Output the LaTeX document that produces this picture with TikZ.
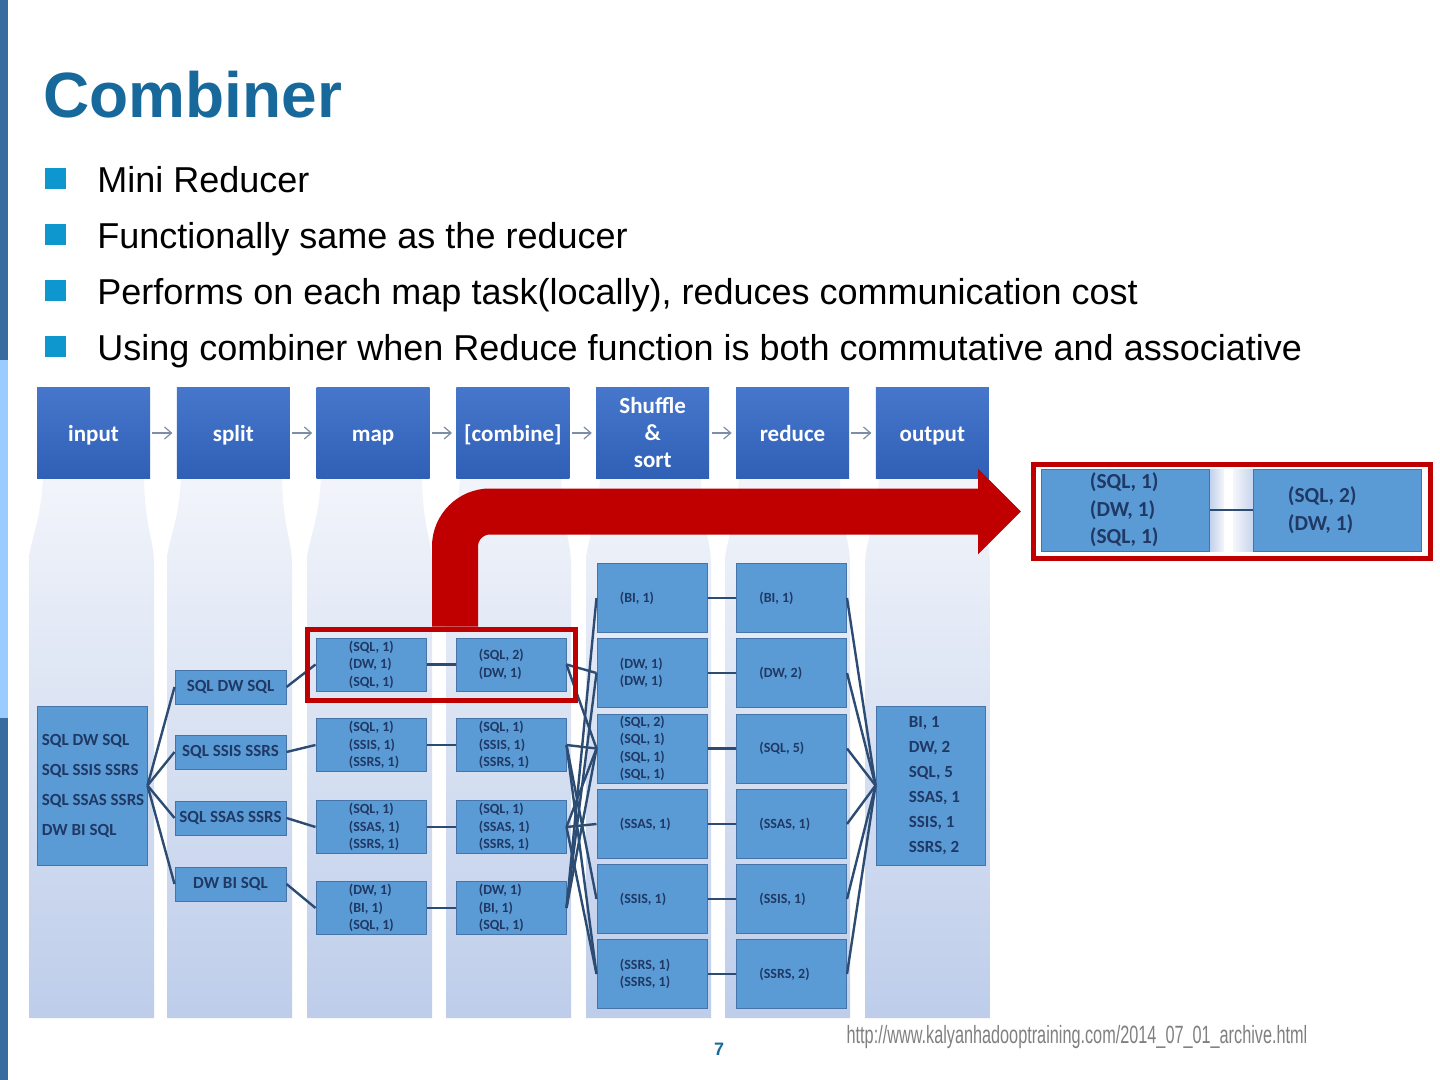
\documentclass[tikz,border=0pt]{standalone}
\usepackage{fontspec}
\setmainfont{Liberation Sans}
\newfontfamily\diagfont{Carlito}
\usetikzlibrary{arrows.meta, positioning, fit}

\definecolor{titleblue}{HTML}{17699C}
\definecolor{bulletblue}{HTML}{0E96CE}
\definecolor{bardark}{HTML}{3A6B9F}
\definecolor{barlight}{HTML}{99CCFF}
\definecolor{hdrtop}{HTML}{4677CB}
\definecolor{hdrbot}{HTML}{3060B6}
\definecolor{boxfill}{HTML}{5B9BD5}
\definecolor{boxline}{HTML}{4674A8}
\definecolor{boxtext}{HTML}{1F3864}
\definecolor{wirecol}{HTML}{2C4C74}
\definecolor{coltop}{HTML}{C4CFE7}
\definecolor{colmid}{HTML}{F4F6FB}
\definecolor{colbot}{HTML}{A3B9E2}
\definecolor{hired}{HTML}{C00000}
\definecolor{urlgray}{HTML}{808080}
\definecolor{arrgray}{HTML}{7D8DA6}

\newcommand\dsmall{\diagfont\bfseries\fontsize{7}{8.75}\selectfont}
\newcommand\dmid{\diagfont\bfseries\fontsize{8.5}{15}\selectfont}
\newcommand\dout{\diagfont\bfseries\fontsize{8.5}{12.5}\selectfont}
\newcommand\dbig{\diagfont\bfseries\fontsize{10.7}{13.75}\selectfont}

\pgfdeclareverticalshading{colshade}{100bp}{color(0bp)=(colbot); color(77bp)=(colmid); color(100bp)=(coltop)}

\begin{document}
\begin{tikzpicture}[
    x=0.5pt, y=-0.5pt,
    node distance=13pt,
    hdrbase/.style={rectangle, top color=hdrtop, bottom color=hdrbot, minimum width=56.5pt, minimum height=45pt, inner sep=0pt, align=center, text=white, font=\diagfont\bfseries\fontsize{11.5}{13.5}\selectfont},
    hdr/.style={hdrbase, text height=1.75ex, text depth=0.05ex},
    harrow/.style={-{Straight Barb[length=3.5pt, width=6pt]}, draw=arrgray, line width=0.6pt, shorten <=1pt, shorten >=2pt},
    dbox/.style={rectangle, draw=boxline, line width=0.5pt, fill=boxfill, inner sep=0pt, minimum width=55pt, text=boxtext},
    lbl/.style n args={3}{label={[anchor=west, xshift=#1, inner sep=0pt, align=left, text=boxtext, font=#2]west:{#3}}},
    wire/.style={draw=wirecol, line width=1.2pt},
    hilite/.style={rectangle, draw=hired, line width=2.5pt, inner sep=4.25pt},
    bigarrow/.style={draw=hired, line width=23pt, rounded corners=17.5pt, -{Triangle[width=41.5pt, length=21.5pt]}, shorten >=5pt},
    bul/.style={rectangle, fill=bulletblue, minimum size=10.5pt, inner sep=0pt},
    point/.style={anchor=base west, inner sep=0pt, font=\fontsize{18}{21.6}\selectfont},
]
    \useasboundingbox (0,0) rectangle (1440,1080);
    \fill[white] (0,0) rectangle (1440,1080);

    % Slide frame
    \fill[bardark] (0,0) rectangle (8,360);
    \fill[barlight] (0,360) rectangle (8,718);
    \fill[bardark] (0,718) rectangle (8,1080);

    % Title and bullets
    \node[anchor=base west, inner sep=0pt, text=titleblue, font=\bfseries\fontsize{32}{38}\selectfont] (title) at (43,118) {Combiner};
    \node[bul] (b1) at (55.5,178.5) {};
    \node[point] (t1) at (97,193) {Mini Reducer};
    \node[bul] (b2) at (55.5,234.5) {};
    \node[point] (t2) at (97,249) {Functionally same as the reducer};
    \node[bul] (b3) at (55.5,290.5) {};
    \node[point] (t3) at (97,305) {Performs on each map task(locally), reduces communication cost};
    \node[bul] (b4) at (55.5,346.5) {};
    \node[point] (t4) at (97,361) {Using combiner when Reduce function is both commutative and associative};

    % Column backgrounds
    \foreach \a in {37,175,315,454,594,733,873}
        \shade[shading=colshade] (\a+6,478) .. controls (\a+3,530) and (\a-8,538) .. (\a-8,566)
            -- (\a-8,1018) -- (\a+117,1018) -- (\a+117,566)
            .. controls (\a+117,538) and (\a+108,530) .. (\a+107,478) -- cycle;

    % Stage headers
    \node[hdr] (hin) at (93.5,433) {input};
    \node[hdr, right=of hin] (hsp) {split};
    \node[hdr, right=of hsp] (hmap) {map};
    \node[hdr, right=of hmap] (hcomb) {[combine]};
    \node[hdrbase, right=of hcomb] (hshuf) {Shuffle\\\&\\sort};
    \node[hdr, right=of hshuf] (hred) {reduce};
    \node[hdr, right=of hred] (hout) {output};
    \draw[harrow] (hin) -- (hsp);
    \draw[harrow] (hsp) -- (hmap);
    \draw[harrow] (hmap) -- (hcomb);
    \draw[harrow] (hcomb) -- (hshuf);
    \draw[harrow] (hshuf) -- (hred);
    \draw[harrow] (hred) -- (hout);

    % Input and split
    \node[dbox, minimum height=79.5pt, lbl={2.5pt}{\dmid}{SQL DW SQL\\SQL SSIS SSRS\\SQL SSAS SSRS\\DW BI SQL}] (in) at (92,785.5) {};
    \node[dbox, minimum width=55.5pt, minimum height=17pt, font=\dmid] (sp1) at (230.5,687) {SQL DW SQL};
    \node[dbox, minimum width=55.5pt, minimum height=17pt, font=\dmid] (sp2) at (230.5,752) {SQL SSIS SSRS};
    \node[dbox, minimum width=55.5pt, minimum height=17pt, font=\dmid] (sp3) at (230.5,818) {SQL SSAS SSRS};
    \node[dbox, minimum width=55.5pt, minimum height=17pt, font=\dmid] (sp4) at (230.5,884) {DW BI SQL};

    % Map
    \node[dbox, minimum height=26.5pt, lbl={16.5pt}{\dsmall}{(SQL, 1)\\(DW, 1)\\(SQL, 1)}] (m1) at (371,664.5) {};
    \node[dbox, minimum height=26.5pt, lbl={16.5pt}{\dsmall}{(SQL, 1)\\(SSIS, 1)\\(SSRS, 1)}] (m2) at (371,745) {};
    \node[dbox, minimum height=26.5pt, lbl={16.5pt}{\dsmall}{(SQL, 1)\\(SSAS, 1)\\(SSRS, 1)}] (m3) at (371,827) {};
    \node[dbox, minimum height=26.5pt, lbl={16.5pt}{\dsmall}{(DW, 1)\\(BI, 1)\\(SQL, 1)}] (m4) at (371,908) {};

    % Combine
    \node[dbox, minimum height=26.5pt, lbl={11.5pt}{\dsmall}{(SQL, 2)\\(DW, 1)}] (c1) at (511,664.5) {};
    \node[dbox, minimum height=26.5pt, lbl={11.5pt}{\dsmall}{(SQL, 1)\\(SSIS, 1)\\(SSRS, 1)}] (c2) at (511,745) {};
    \node[dbox, minimum height=26.5pt, lbl={11.5pt}{\dsmall}{(SQL, 1)\\(SSAS, 1)\\(SSRS, 1)}] (c3) at (511,827) {};
    \node[dbox, minimum height=26.5pt, lbl={11.5pt}{\dsmall}{(DW, 1)\\(BI, 1)\\(SQL, 1)}] (c4) at (511,908) {};

    % Shuffle & sort
    \node[dbox, minimum height=34.5pt, lbl={11.5pt}{\dsmall}{(BI, 1)}] (s1) at (652,598) {};
    \node[dbox, minimum height=34.5pt, lbl={11.5pt}{\dsmall}{(DW, 1)\\(DW, 1)}] (s2) at (652,673) {};
    \node[dbox, minimum height=34.5pt, lbl={11.5pt}{\dsmall}{(SQL, 2)\\(SQL, 1)\\(SQL, 1)\\(SQL, 1)}] (s3) at (652,748.5) {};
    \node[dbox, minimum height=34.5pt, lbl={11.5pt}{\dsmall}{(SSAS, 1)}] (s4) at (652,824) {};
    \node[dbox, minimum height=34.5pt, lbl={11.5pt}{\dsmall}{(SSIS, 1)}] (s5) at (652,899) {};
    \node[dbox, minimum height=34.5pt, lbl={11.5pt}{\dsmall}{(SSRS, 1)\\(SSRS, 1)}] (s6) at (652,974) {};

    % Reduce
    \node[dbox, minimum height=34.5pt, lbl={11.5pt}{\dsmall}{(BI, 1)}] (r1) at (791.5,598) {};
    \node[dbox, minimum height=34.5pt, lbl={11.5pt}{\dsmall}{(DW, 2)}] (r2) at (791.5,673) {};
    \node[dbox, minimum height=34.5pt, lbl={11.5pt}{\dsmall}{(SQL, 5)}] (r3) at (791.5,748.5) {};
    \node[dbox, minimum height=34.5pt, lbl={11.5pt}{\dsmall}{(SSAS, 1)}] (r4) at (791.5,824) {};
    \node[dbox, minimum height=34.5pt, lbl={11.5pt}{\dsmall}{(SSIS, 1)}] (r5) at (791.5,899) {};
    \node[dbox, minimum height=34.5pt, lbl={11.5pt}{\dsmall}{(SSRS, 2)}] (r6) at (791.5,974) {};

    % Output
    \node[dbox, minimum width=54.5pt, minimum height=79.5pt, lbl={16.5pt}{\dout}{BI, 1\\DW, 2\\SQL, 5\\SSAS, 1\\SSIS, 1\\SSRS, 2}] (out) at (930.5,785.5) {};

    % Wires
    \draw[wire] (in.east) -- (sp1.west);
    \draw[wire] (in.east) -- (sp2.west);
    \draw[wire] (in.east) -- (sp3.west);
    \draw[wire] (in.east) -- (sp4.west);
    \draw[wire] (sp1.east) -- (m1.west);
    \draw[wire] (sp2.east) -- (m2.west);
    \draw[wire] (sp3.east) -- (m3.west);
    \draw[wire] (sp4.east) -- (m4.west);
    \draw[wire] (m1.east) -- (c1.west);
    \draw[wire] (m2.east) -- (c2.west);
    \draw[wire] (m3.east) -- (c3.west);
    \draw[wire] (m4.east) -- (c4.west);
    \draw[wire] (c1.east) -- (s2.west);
    \draw[wire] (c1.east) -- (s3.west);
    \draw[wire] (c2.east) -- (s3.west);
    \draw[wire] (c2.east) -- (s5.west);
    \draw[wire] (c2.east) -- (s6.west);
    \draw[wire] (c3.east) -- (s3.west);
    \draw[wire] (c3.east) -- (s4.west);
    \draw[wire] (c3.east) -- (s6.west);
    \draw[wire] (c4.east) -- (s1.west);
    \draw[wire] (c4.east) -- (s2.west);
    \draw[wire] (c4.east) -- (s3.west);
    \draw[wire] (s1.east) -- (r1.west);
    \draw[wire] (s2.east) -- (r2.west);
    \draw[wire] (s3.east) -- (r3.west);
    \draw[wire] (s4.east) -- (r4.west);
    \draw[wire] (s5.east) -- (r5.west);
    \draw[wire] (s6.east) -- (r6.west);
    \draw[wire] (r1.east) -- (out.west);
    \draw[wire] (r2.east) -- (out.west);
    \draw[wire] (r3.east) -- (out.west);
    \draw[wire] (r4.east) -- (out.west);
    \draw[wire] (r5.east) -- (out.west);
    \draw[wire] (r6.east) -- (out.west);

    % Zoomed combiner
    \node[hilite, fill=white, inner sep=0pt, minimum width=198.5pt, minimum height=47pt] (zb) at (1232,511.5) {};
    \shade[left color=colbot!70, right color=colmid] (1209,469) rectangle (1224,551);
    \shade[left color=colmid, right color=colbot!60] (1233,469) rectangle (1253,551);
    \node[dbox, minimum width=84pt, minimum height=41pt, lbl={24.5pt}{\dbig}{(SQL, 1)\\(DW, 1)\\(SQL, 1)}] (zl) at (1125,510) {};
    \node[dbox, minimum width=84pt, minimum height=41pt, lbl={17.5pt}{\dbig}{(SQL, 2)\\(DW, 1)}] (zr) at (1337,510) {};
    \draw[wire] (zl) -- (zr);

    % Highlight
    \node[hilite, fit=(m1)(c1)] (hl) {};
    \draw[bigarrow] ([xshift=7pt]hl.north) |- (zb.west);

    % Footer
    \node[text=titleblue, font=\bfseries\fontsize{9}{10}\selectfont] (page) at (719,1049) {7};
    \node[text=urlgray, font=\fontsize{12.5}{14}\selectfont] (src) at (1077,1037) {\scalebox{0.65}[1]{http://www.kalyanhadooptraining.com/2014\_07\_01\_archive.html}};
\end{tikzpicture}
\end{document}
